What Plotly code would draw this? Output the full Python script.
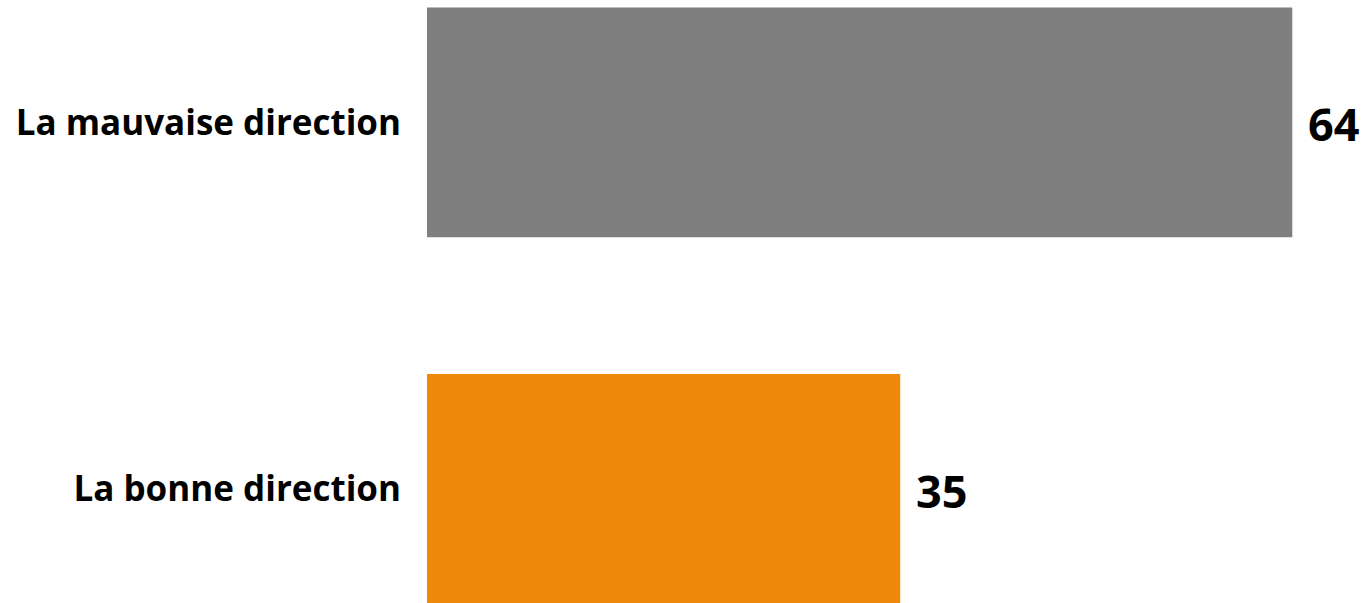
import plotly.graph_objects as go

categories = ["La bonne direction", "La mauvaise direction"]
values = [35, 64]
colors = ["#F0880A", "#7F7F7F"]

fig = go.Figure()
fig.add_trace(go.Bar(
    y=list(range(len(categories))),
    x=values,
    orientation="h",
    marker=dict(color=colors, line=dict(width=0)),
    width=0.627,
    hoverinfo="skip",
))

for i, v in enumerate(values):
    fig.add_annotation(
        x=v, y=i, text=f"<b>{v}</b>", showarrow=False,
        xanchor="left", xshift=14, yshift=-1,
        font=dict(family="Open Sans, sans-serif", size=45, color="black"),
    )

fig.update_layout(
    width=1367, height=603,
    margin=dict(l=427, r=0, t=0, b=0),
    plot_bgcolor="white", paper_bgcolor="white",
    showlegend=False,
    xaxis=dict(range=[0, 940 / 13.52], visible=False, fixedrange=True),
    yaxis=dict(
        range=[-0.311, 1.334],
        tickvals=list(range(len(categories))),
        ticktext=[f"<b>{c}</b>" for c in categories],
        tickfont=dict(family="Open Sans, sans-serif", size=35, color="black"),
        showgrid=False, zeroline=False, showline=False,
        ticks="", ticklabelstandoff=25,
    ),
)

fig.write_html("out.html", config={"displayModeBar": False},
               post_script="document.body.style.margin='0';document.body.style.padding='0';")
